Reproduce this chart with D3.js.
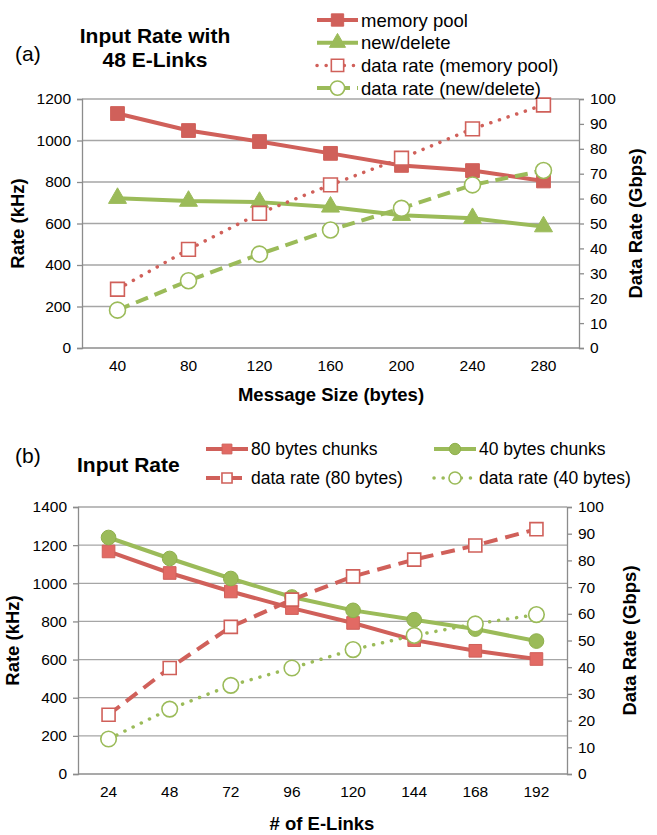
<!DOCTYPE html>
<html><head><meta charset="utf-8">
<script src="https://cdn.jsdelivr.net/npm/d3@7"></script>
<style>
body{margin:0;background:#fff;}
text{font-family:"Liberation Sans",Arial,sans-serif;fill:#000;}
</style></head>
<body><svg id="c" width="657" height="835"></svg>
<script>
// ---- data (a)
const sizesA = [40, 80, 120, 160, 200, 240, 280];
const memPoolRate = [1130, 1048, 995, 938, 880, 855, 805];
const newDeleteRate = [722, 708, 703, 680, 640, 625, 585];
const memPoolData = [23.6, 39.6, 54.1, 65.5, 76.2, 88, 97.6];
const newDeleteData = [15.2, 27, 37.7, 47.4, 56.1, 65.5, 71.3];
const leftTicksA = [0, 200, 400, 600, 800, 1000, 1200];
const rightTicks = [0, 10, 20, 30, 40, 50, 60, 70, 80, 90, 100];
// ---- data (b)
const linksB = [24, 48, 72, 96, 120, 144, 168, 192];
const chunks80Rate = [1167, 1054, 957, 870, 792, 702, 646, 603];
const chunks40Rate = [1240, 1130, 1025, 928, 858, 809, 760, 697];
const chunks80Data = [22.2, 39.7, 55.1, 65.3, 74, 80.3, 85.6, 91.7];
const chunks40Data = [13.1, 24.3, 33.2, 39.7, 46.6, 51.9, 56.2, 59.7];
const leftTicksB = [0, 200, 400, 600, 800, 1000, 1200, 1400];

const RED = "#d0605a", RED2 = "#e26a64", GREEN = "#9bbb59", GRID = "#a6a6a6", AX = "#8c8c8c";
const svg = d3.select("#c");

function panel(cfg) {
  const g = svg.append("g");
  const x = d3.scaleBand().domain(cfg.cats).range([cfg.x0, cfg.x1]);
  const yl = d3.scaleLinear().domain([0, cfg.lmax]).range([cfg.y0, cfg.y1]);
  const yr = d3.scaleLinear().domain([0, 100]).range([cfg.y0, cfg.y1]);
  g.append("g").selectAll("line").data(cfg.lticks.slice(1)).join("line")
    .attr("x1", cfg.x0).attr("x2", cfg.x1).attr("y1", d => yl(d)).attr("y2", d => yl(d))
    .attr("stroke", GRID).attr("stroke-width", 1.3);
  const la = g.append("g").attr("transform", `translate(${cfg.x0},0)`)
    .call(d3.axisLeft(yl).tickValues(cfg.lticks).tickFormat(d3.format("d")).tickSize(5).tickPadding(6));
  const ra = g.append("g").attr("transform", `translate(${cfg.x1},0)`)
    .call(d3.axisRight(yr).tickValues(rightTicks).tickFormat(d3.format("d")).tickSize(5).tickPadding(6));
  const xa = g.append("g").attr("transform", `translate(0,${cfg.y0})`)
    .call(d3.axisBottom(x).tickSize(0).tickPadding(12));
  [la, ra, xa].forEach(a => {
    a.select(".domain").attr("stroke", AX).attr("stroke-width", 1.3);
    a.selectAll(".tick line").attr("stroke", AX).attr("stroke-width", 1.3);
    a.selectAll("text").style("font-size", "15.5px").attr("fill", "#000");
  });
  xa.select(".domain").attr("d", `M${cfg.x0},0H${cfg.x1}`);
  g.append("text").attr("transform", `translate(${cfg.ltx},${(cfg.y0 + cfg.y1) / 2}) rotate(-90)`)
    .attr("text-anchor", "middle").style("font-size", "18.5px").style("font-weight", "bold").text("Rate (kHz)");
  g.append("text").attr("transform", `translate(${cfg.rtx},${(cfg.y0 + cfg.y1) / 2}) rotate(-90)`)
    .attr("text-anchor", "middle").style("font-size", "18.5px").style("font-weight", "bold").text("Data Rate (Gbps)");
  g.append("text").attr("x", cfg.xtx).attr("y", cfg.xty).attr("text-anchor", "middle")
    .style("font-size", "18.5px").style("font-weight", "bold").text(cfg.xtitle);
  cfg.series.forEach(s => {
    const ys = s.axis === "l" ? yl : yr;
    const pts = cfg.cats.map((c, i) => [x(c) + x.bandwidth() / 2, ys(s.values[i])]);
    g.append("path").attr("d", d3.line()(pts)).attr("fill", "none")
      .attr("stroke", s.color).attr("stroke-width", s.lw)
      .attr("stroke-dasharray", s.dash || null).attr("stroke-linecap", s.cap || "butt");
    const sym = d3.symbol().type(s.sym).size(s.size);
    g.append("g").selectAll("path").data(pts).join("path")
      .attr("transform", d => `translate(${d[0]},${d[1]})`).attr("d", sym)
      .attr("fill", s.fill).attr("stroke", s.stroke).attr("stroke-width", s.sw);
  });
  return {x, yl, yr};
}

const seriesA = [
  {name: "memory pool", values: memPoolRate, axis: "l", color: RED, lw: 4, sym: d3.symbolSquare, size: 190, fill: RED, stroke: RED, sw: 1},
  {name: "new/delete", values: newDeleteRate, axis: "l", color: GREEN, lw: 4, sym: d3.symbolTriangle, size: 140, fill: GREEN, stroke: GREEN, sw: 1},
  {name: "data rate (memory pool)", values: memPoolData, axis: "r", color: RED, lw: 3.5, dash: "0.1 9", cap: "round", sym: d3.symbolSquare, size: 190, fill: "#fff", stroke: RED, sw: 1.6},
  {name: "data rate (new/delete)", values: newDeleteData, axis: "r", color: GREEN, lw: 4, dash: "13 7", sym: d3.symbolCircle, size: 200, fill: "#fff", stroke: GREEN, sw: 1.6}
];
panel({cats: sizesA, x0: 82, x1: 579, y0: 348, y1: 99, lmax: 1200, lticks: leftTicksA,
  series: seriesA, ltx: 24, rtx: 642, xtx: 331, xty: 401, xtitle: "Message Size (bytes)"});

const seriesB = [
  {name: "80 bytes chunks", values: chunks80Rate, axis: "l", color: RED, lw: 4, sym: d3.symbolSquare, size: 160, fill: RED2, stroke: RED, sw: 1},
  {name: "40 bytes chunks", values: chunks40Rate, axis: "l", color: GREEN, lw: 4, sym: d3.symbolCircle, size: 170, fill: GREEN, stroke: "#8fb04c", sw: 1},
  {name: "data rate (80 bytes)", values: chunks80Data, axis: "r", color: RED, lw: 4, dash: "14 8", sym: d3.symbolSquare, size: 170, fill: "#fff", stroke: RED, sw: 1.6},
  {name: "data rate (40 bytes)", values: chunks40Data, axis: "r", color: GREEN, lw: 3.5, dash: "0.1 9", cap: "round", sym: d3.symbolCircle, size: 190, fill: "#fff", stroke: GREEN, sw: 1.6}
];
panel({cats: linksB, x0: 78, x1: 567, y0: 774, y1: 507, lmax: 1400, lticks: leftTicksB,
  series: seriesB, ltx: 19, rtx: 636, xtx: 322, xty: 830, xtitle: "# of E-Links"});

function txt(x, y, s, size, bold, anchor) {
  svg.append("text").attr("x", x).attr("y", y).attr("text-anchor", anchor || "start")
    .style("font-size", size + "px").style("font-weight", bold ? "bold" : "normal").text(s);
}
txt(15, 61, "(a)", 21);
txt(155, 43, "Input Rate with", 21, true, "middle");
txt(155, 67, "48 E-Links", 21, true, "middle");
txt(15, 463, "(b)", 21);
txt(77, 472, "Input Rate", 21, true);

function legendItem(s, lx, ly, w, fs, ms) {
  const g = svg.append("g");
  g.append("line").attr("x1", lx).attr("x2", lx + w).attr("y1", ly).attr("y2", ly)
    .attr("stroke", s.color).attr("stroke-width", s.lw).attr("stroke-dasharray", s.dash || null)
    .attr("stroke-linecap", s.cap || "butt");
  g.append("path").attr("transform", `translate(${lx + w / 2},${ly})`)
    .attr("d", d3.symbol().type(s.sym).size(s.size * ms)).attr("fill", s.fill)
    .attr("stroke", s.stroke).attr("stroke-width", s.sw);
  txt(lx + w + 3, ly + fs * 0.36, s.name, fs);
}
seriesA.forEach((s, i) => legendItem(s, 317, 20 + i * 22.7, 41, 18.5, 0.8));
legendItem(seriesB[0], 206, 449, 42, 17.5, 0.6);
legendItem(seriesB[1], 434, 449, 42, 17.5, 0.6);
legendItem(seriesB[2], 206, 478, 42, 17.5, 0.6);
legendItem(seriesB[3], 434, 478, 42, 17.5, 0.6);
</script></body></html>
